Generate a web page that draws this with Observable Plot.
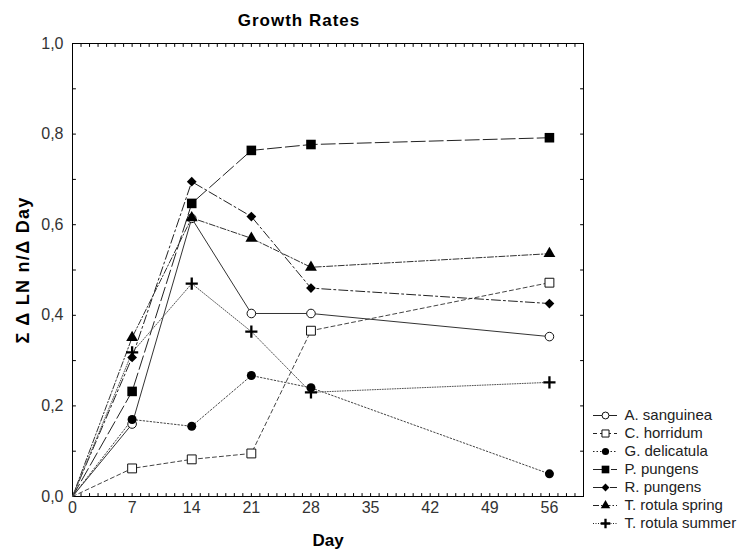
<!DOCTYPE html>
<html>
<head>
<meta charset="utf-8">
<script src="https://cdn.jsdelivr.net/npm/d3@7"></script>
<script src="https://cdn.jsdelivr.net/npm/@observablehq/plot@0.6"></script>
<style>
  html, body { margin: 0; padding: 0; background: #fff; }
  #wrap { position: relative; width: 739px; height: 553px; }
  #legend { position: absolute; left: 585px; top: 400px; }
</style>
</head>
<body>
<div id="wrap"><div id="chart"></div><div id="legend"></div></div>
<script>
// ---- data ----
const days = [0, 7, 14, 21, 28, 56];
const seriesNames = ["A. sanguinea", "C. horridum", "G. delicatula", "P. pungens", "R. pungens", "T. rotula spring", "T. rotula summer"];
const aSanguinea    = [0, 0.160, 0.614, 0.404, 0.404, 0.353];
const cHorridum     = [0, 0.062, 0.082, 0.095, 0.366, 0.472];
const gDelicatula   = [0, 0.170, 0.155, 0.267, 0.240, 0.050];
const pPungens      = [0, 0.232, 0.647, 0.764, 0.777, 0.792];
const rPungens      = [0, 0.307, 0.695, 0.618, 0.460, 0.426];
const tRotulaSpring = [0, 0.351, 0.615, 0.570, 0.506, 0.536];
const tRotulaSummer = [0, 0.318, 0.470, 0.364, 0.230, 0.252];
const xTickLabels = [0, 7, 14, 21, 28, 35, 42, 49, 56];
const yTickLabels = [0, 0.2, 0.4, 0.6, 0.8, 1.0];
const xMinorTicks = d3.range(0, 61, 1);
const yMinorTicks = [0, 0.1, 0.2, 0.3, 0.4, 0.5, 0.6, 0.7, 0.8, 0.9, 1.0];
const title = "Growth Rates";
const xLabel = "Day";
const yLabel = "Σ Δ LN n/Δ Day";

// ---- styles ----
const allValues = [aSanguinea, cHorridum, gDelicatula, pPungens, rPungens, tRotulaSpring, tRotulaSummer];
const styles = [
  {symbol: "circle",   fill: "white", stroke: "#111", sw: 1,   r: 4.3, dash: null,        line: "#333"},
  {symbol: "square",   fill: "white", stroke: "#111", sw: 1,   r: 5,   dash: "4,3",       line: "#444"},
  {symbol: "circle",   fill: "#000",  stroke: "none", sw: 0,   r: 4.5, dash: "1.5,2",     line: "#444"},
  {symbol: "square",   fill: "#000",  stroke: "none", sw: 0,   r: 5.4, dash: "14,4",      line: "#222"},
  {symbol: "diamond2", fill: "#000",  stroke: "none", sw: 0,   r: 4.4, dash: "9,3,2,3",   line: "#222"},
  {symbol: "triangle", fill: "#000",  stroke: "none", sw: 0,   r: 4.4, dash: "6,2,1.5,2", line: "#333"},
  {symbol: "plus",     fill: "none",  stroke: "#000", sw: 2.3, r: 4,   dash: "1,1.5",     line: "#555"}
];
const series = seriesNames.map((name, i) => ({
  name, ...styles[i],
  rows: days.map((d, j) => ({day: d, value: allValues[i][j]}))
}));

const font = "'Liberation Sans', Arial, sans-serif";
const fmt = d => d.toFixed(1).replace(".", ",");
const tickShape = {draw(context, l) { context.moveTo(0, 0); context.lineTo(0, -l); }};
const tickOpts = {length: 3, anchor: "start", shape: tickShape, stroke: "#000", strokeWidth: 1};

const marks = [
  Plot.frame({stroke: "#000", strokeWidth: 1}),
  Plot.vector(xMinorTicks, {x: d => d, y: 0, rotate: 0, ...tickOpts}),
  Plot.vector(xMinorTicks, {x: d => d, y: 1, rotate: 180, ...tickOpts}),
  Plot.vector(yMinorTicks, {x: 0, y: d => d, rotate: 90, ...tickOpts}),
  Plot.vector(yMinorTicks, {x: 60, y: d => d, rotate: -90, ...tickOpts}),
  Plot.axisX({anchor: "bottom", ticks: xTickLabels, tickSize: 0, tickPadding: 5, label: null, fontSize: 16, fill: "#333"}),
  Plot.axisY({anchor: "left", ticks: yTickLabels, tickSize: 0, tickPadding: 9, tickFormat: fmt, label: null, fontSize: 16, fill: "#333"}),
  Plot.text([title], {frameAnchor: "top", dy: -23, dx: -29, textAnchor: "middle", lineAnchor: "middle", fontSize: 17, fontWeight: "bold", fill: "#000"}),
  Plot.text([xLabel], {frameAnchor: "bottom", dy: 44, textAnchor: "middle", lineAnchor: "middle", fontSize: 17, fontWeight: "bold", fill: "#000"}),
  Plot.text([yLabel], {frameAnchor: "left", dx: -49, dy: 0, rotate: -90, textAnchor: "middle", lineAnchor: "middle", fontSize: 18, fontWeight: "bold", fill: "#000"})
];
for (const s of series) {
  marks.push(Plot.line(s.rows, {x: "day", y: "value", stroke: s.line, strokeWidth: 1, strokeDasharray: s.dash || undefined}));
}
for (const s of series) {
  marks.push(Plot.dot(s.rows.filter(r => r.day > 0), {x: "day", y: "value", symbol: () => s.symbol, r: s.r, fill: s.fill, stroke: s.stroke, strokeWidth: s.sw}));
}

const chart = Plot.plot({
  width: 739, height: 553,
  marginLeft: 72, marginRight: 156, marginTop: 43, marginBottom: 57,
  x: {domain: [0, 60]},
  y: {domain: [0, 1]},
  symbol: {type: "identity"},
  style: {fontFamily: font, background: "white", color: "#000"},
  marks
});
document.getElementById("chart").appendChild(chart);
d3.select(chart).selectAll("text").each(function () {
  const t = this.textContent;
  if (t === title) this.setAttribute("letter-spacing", "1");
  if (t === yLabel) this.setAttribute("letter-spacing", "1.3");
});

// ---- legend ----
const lmarks = [];
for (const s of series) {
  lmarks.push(Plot.ruleY([s.name], {y: d => d, x1: 0, x2: 1, stroke: "#222", strokeWidth: 1, strokeDasharray: s.dash || undefined}));
  lmarks.push(Plot.dot([s.name], {y: d => d, x: 0.5, symbol: () => s.symbol, r: s.r * 0.8, fill: s.fill, stroke: s.stroke, strokeWidth: s.sw}));
}
lmarks.push(Plot.text(seriesNames, {y: d => d, x: 1, dx: 7, text: d => d, textAnchor: "start", fontSize: 15, fill: "#222"}));
const legend = Plot.plot({
  width: 154, height: 140,
  margin: 0,
  x: {domain: [0, 1], range: [8, 32], axis: null},
  y: {type: "point", domain: seriesNames, range: [13, 13 + 18.5 * 6], padding: 0, axis: null},
  symbol: {type: "identity"},
  style: {fontFamily: font, background: "transparent", overflow: "visible"},
  marks: lmarks
});
document.getElementById("legend").appendChild(legend);
</script>
</body>
</html>
